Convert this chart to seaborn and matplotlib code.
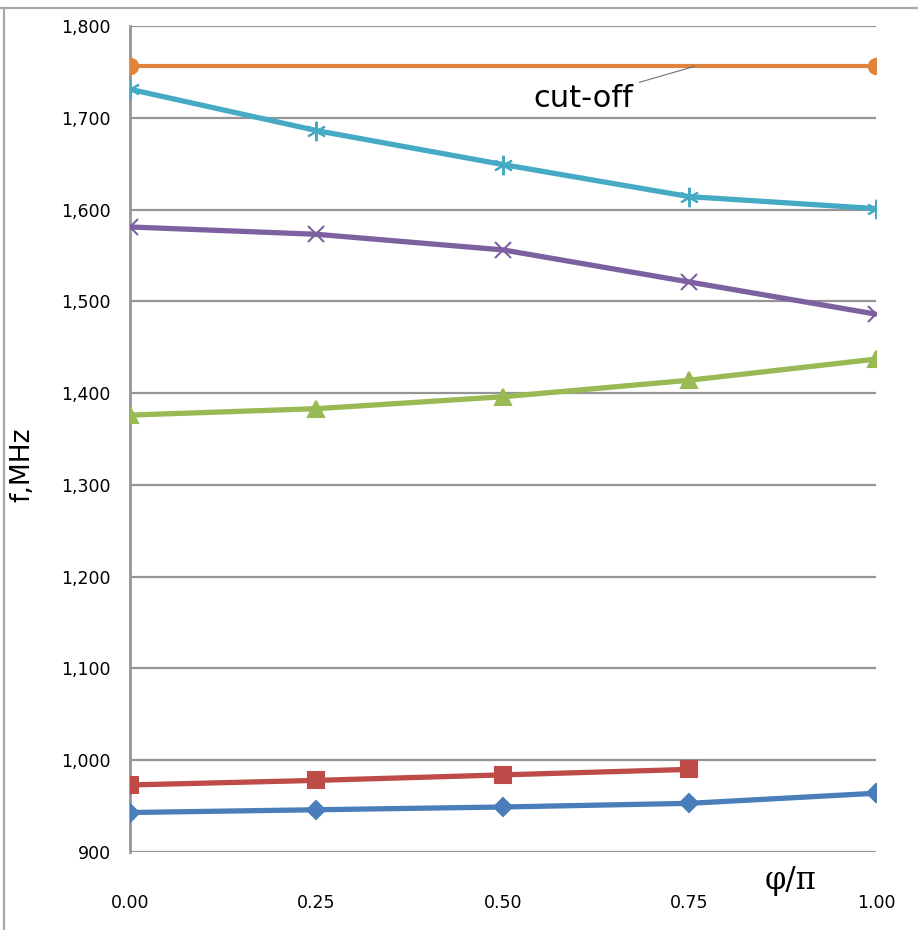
import numpy as np
import pandas as pd
import matplotlib
matplotlib.use("Agg")
import matplotlib.pyplot as plt
from matplotlib.lines import Line2D
import seaborn as sns

# ---- data ----
phi = [0.00, 0.25, 0.50, 0.75, 1.00]
mode1 = [943, 946, 949, 953, 964]          # blue, diamonds
mode2 = [973, 978, 984, 990, np.nan]       # red, squares
mode3 = [1376, 1383, 1396, 1414, 1437]     # green, triangles
mode4 = [1581, 1573, 1556, 1521, 1486]     # purple, x
mode5 = [1731, 1686, 1649, 1614, 1601]     # teal, asterisk
phi_cut = [0.00, 1.00]
cutoff = [1756, 1756]                      # orange, circles
ytick_vals = [900, 1000, 1100, 1200, 1300, 1400, 1500, 1600, 1700, 1800]
xtick_vals = [0.00, 0.25, 0.50, 0.75, 1.00]

series = {"m1": (phi, mode1), "m2": (phi, mode2), "m3": (phi, mode3),
          "m4": (phi, mode4), "m5": (phi, mode5), "cut": (phi_cut, cutoff)}
rows = []
for name, (xs, vals) in series.items():
    for x, v in zip(xs, vals):
        if not np.isnan(v):
            rows.append({"phi": x, "f": v, "series": name})
df = pd.DataFrame(rows)

palette = {"m1": "#4A7EBB", "m2": "#BE4B48", "m3": "#98B954", "m4": "#7D60A0",
           "m5": "#46AAC5", "cut": "#E0833C"}
markers = {"m1": "D", "m2": "s", "m3": "^", "m4": "x", "m5": (6, 2, 0), "cut": "o"}
msize = {"m1": 9, "m2": 11, "m3": 11, "m4": 12, "m5": 14, "cut": 11}

sns.set_style("white")
plt.rcParams["font.family"] = ["DejaVu Sans"]

fig = plt.figure(figsize=(9.18, 9.30), dpi=100)
ax = fig.add_axes([0.1416, 0.0839, 0.8126, 0.8882])

gridc = "#959595"
for yv in ytick_vals:
    ax.axhline(yv, color=gridc, lw=1.6, zorder=0)

for name in series:
    sub = df[df["series"] == name]
    sns.lineplot(data=sub, x="phi", y="f", color=palette[name], marker=markers[name],
                 markersize=msize[name], lw=3.8 if name != "cut" else 3.0,
                 markeredgecolor=palette[name], markerfacecolor=palette[name],
                 markeredgewidth=1.5, ax=ax, legend=False, zorder=3)

ax.set_xlim(0, 1)
ax.set_ylim(900, 1800)
ax.set_xticks(xtick_vals)
ax.set_xticklabels([f"{v:.2f}" for v in xtick_vals])
ax.set_yticks(ytick_vals)
ax.set_yticklabels([f"{v:,}" for v in ytick_vals])
ax.tick_params(axis="y", direction="out", length=8, width=1.6, color=gridc,
               labelsize=12.5, pad=6, labelcolor="black")
ax.tick_params(axis="x", direction="out", length=8, width=1.6, color=gridc,
               labelsize=12.5, pad=22, labelcolor="black")
ax.set_xlabel("")
ax.set_ylabel("f,MHz", fontsize=19, color="black")
ax.yaxis.set_label_coords(-0.127, 0.469)

for s in ["top", "right", "bottom"]:
    ax.spines[s].set_visible(False)
ax.spines["left"].set_color(gridc)
ax.spines["left"].set_linewidth(2.0)

ax.text(0.885, -0.035, "φ/π", transform=ax.get_xaxis_transform(), ha="center",
        va="center", fontsize=22, family="DejaVu Serif", color="black")

ax.annotate("cut-off", xy=(0.757, cutoff[0]), xytext=(0.608, 1721),
            ha="center", va="center", fontsize=22, color="black",
            arrowprops=dict(arrowstyle="-", color="#707070", lw=0.8,
                            shrinkA=2, shrinkB=0))

fig.add_artist(Line2D([0, 1], [1 - 8 / 930, 1 - 8 / 930], color="#A8A8A8", lw=1.6,
                      transform=fig.transFigure))
fig.add_artist(Line2D([4 / 918, 4 / 918], [0, 1 - 8 / 930], color="#A8A8A8", lw=1.6,
                      transform=fig.transFigure))

fig.savefig("out.png", dpi=100)
